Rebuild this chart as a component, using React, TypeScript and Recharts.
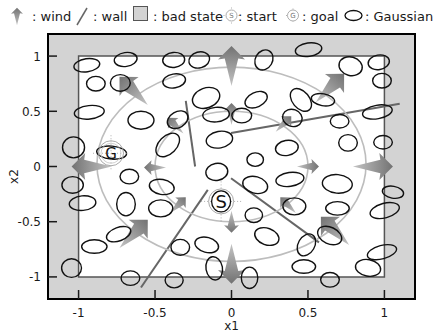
import React from 'react'
import { ScatterChart, Scatter, XAxis, YAxis, ReferenceArea, ReferenceLine } from 'recharts'

// axis setup
const xTicks = [-1, -0.5, 0, 0.5, 1]
const yTicks = [-1, -0.5, 0, 0.5, 1]
const fullDomain: [number, number] = [-1.2, 1.2]
const safeBox = { x1: -1, x2: 1, y1: -1, y2: 1 }

// gaussians: centre, spread along x / y (data units), tilt in degrees
const gaussians = [
  { x: -0.946, y: 0.917, sx: 0.085, sy: 0.059, a: -8 },
  { x: -0.692, y: 0.969, sx: 0.075, sy: 0.063, a: -8 },
  { x: -0.887, y: 0.75, sx: 0.061, sy: 0.066, a: 0 },
  { x: -0.727, y: 0.757, sx: 0.065, sy: 0.075, a: 0 },
  { x: -0.93, y: 0.491, sx: 0.098, sy: 0.061, a: -6 },
  { x: -0.592, y: 0.419, sx: 0.085, sy: 0.081, a: 0 },
  { x: -1.033, y: 0.173, sx: 0.072, sy: 0.095, a: 0 },
  { x: -0.784, y: 0.126, sx: 0.098, sy: 0.059, a: 5 },
  { x: -0.378, y: 0.965, sx: 0.072, sy: 0.068, a: -5 },
  { x: -0.211, y: 0.965, sx: 0.069, sy: 0.072, a: -15 },
  { x: 0.212, y: 0.965, sx: 0.056, sy: 0.095, a: 30 },
  { x: -0.375, y: 0.775, sx: 0.075, sy: 0.063, a: -10 },
  { x: -0.166, y: 0.621, sx: 0.092, sy: 0.09, a: -20 },
  { x: 0.161, y: 0.605, sx: 0.077, sy: 0.066, a: -25 },
  { x: -0.101, y: 0.47, sx: 0.087, sy: 0.066, a: -5 },
  { x: 0.067, y: 0.461, sx: 0.065, sy: 0.066, a: 0 },
  { x: -0.352, y: 0.424, sx: 0.072, sy: 0.072, a: -30 },
  { x: 0.398, y: 0.44, sx: 0.065, sy: 0.077, a: 20 },
  { x: -0.079, y: 0.243, sx: 0.087, sy: 0.075, a: -10 },
  { x: -0.417, y: 0.195, sx: 0.092, sy: 0.081, a: -45 },
  { x: 0.362, y: 0.168, sx: 0.075, sy: 0.068, a: -10 },
  { x: 0.155, y: 0.062, sx: 0.054, sy: 0.061, a: 0 },
  { x: -0.096, y: -0.049, sx: 0.072, sy: 0.077, a: -10 },
  { x: 0.504, y: 1.058, sx: 0.087, sy: 0.061, a: -8 },
  { x: 0.779, y: 0.908, sx: 0.077, sy: 0.084, a: 15 },
  { x: 0.963, y: 0.944, sx: 0.07, sy: 0.066, a: -10 },
  { x: 0.984, y: 0.777, sx: 0.061, sy: 0.066, a: 0 },
  { x: 0.454, y: 0.603, sx: 0.085, sy: 0.077, a: 50 },
  { x: 0.598, y: 0.605, sx: 0.077, sy: 0.054, a: 10 },
  { x: 0.707, y: 0.41, sx: 0.061, sy: 0.061, a: 0 },
  { x: 0.954, y: 0.494, sx: 0.098, sy: 0.061, a: -10 },
  { x: 0.762, y: 0.214, sx: 0.061, sy: 0.075, a: 0 },
  { x: 0.991, y: 0.22, sx: 0.061, sy: 0.061, a: 0 },
  { x: -1.039, y: -0.167, sx: 0.07, sy: 0.075, a: 0 },
  { x: -0.974, y: -0.332, sx: 0.087, sy: 0.066, a: -5 },
  { x: -0.668, y: -0.091, sx: 0.061, sy: 0.066, a: 0 },
  { x: -0.69, y: -0.341, sx: 0.061, sy: 0.106, a: 0 },
  { x: -0.456, y: -0.185, sx: 0.082, sy: 0.068, a: 10 },
  { x: -0.463, y: -0.379, sx: 0.079, sy: 0.077, a: 0 },
  { x: -0.738, y: -0.613, sx: 0.083, sy: 0.061, a: -20 },
  { x: -0.897, y: -0.725, sx: 0.083, sy: 0.061, a: 0 },
  { x: -1.046, y: -0.92, sx: 0.065, sy: 0.084, a: 0 },
  { x: -0.661, y: -1.011, sx: 0.061, sy: 0.066, a: 0 },
  { x: -0.375, y: -1.031, sx: 0.059, sy: 0.068, a: 0 },
  { x: 0.155, y: -0.167, sx: 0.083, sy: 0.075, a: 15 },
  { x: 0.382, y: -0.117, sx: 0.092, sy: 0.063, a: -8 },
  { x: 0.146, y: -0.441, sx: 0.057, sy: 0.066, a: 0 },
  { x: -0.335, y: -0.732, sx: 0.061, sy: 0.072, a: 0 },
  { x: -0.162, y: -0.71, sx: 0.079, sy: 0.068, a: 15 },
  { x: 0.231, y: -0.634, sx: 0.082, sy: 0.075, a: 20 },
  { x: -0.113, y: -0.922, sx: 0.054, sy: 0.106, a: -10 },
  { x: 0.118, y: -1.008, sx: 0.054, sy: 0.097, a: 0 },
  { x: 0.692, y: -0.157, sx: 0.098, sy: 0.084, a: 5 },
  { x: 1.056, y: -0.233, sx: 0.07, sy: 0.054, a: 10 },
  { x: 0.411, y: -0.361, sx: 0.075, sy: 0.077, a: 0 },
  { x: 0.693, y: -0.379, sx: 0.077, sy: 0.061, a: 0 },
  { x: 1.002, y: -0.399, sx: 0.098, sy: 0.066, a: -15 },
  { x: 0.642, y: -0.625, sx: 0.083, sy: 0.075, a: 25 },
  { x: 0.49, y: -0.71, sx: 0.054, sy: 0.106, a: 30 },
  { x: 0.984, y: -0.776, sx: 0.098, sy: 0.061, a: -15 },
  { x: 0.473, y: -0.906, sx: 0.077, sy: 0.061, a: 0 },
  { x: 0.893, y: -0.918, sx: 0.083, sy: 0.075, a: 10 },
  { x: 0.644, y: -1.026, sx: 0.061, sy: 0.066, a: 0 },
]

// grey guide circles of the wind field
const rings = [
  { x: 0, y: 0.02, r: 0.88 },
  { x: 0, y: 0, r: 0.5 },
]

// wind arrows: position, direction (deg, ccw from +x1), strength
const winds = [
  { x: 0, y: 0.91, dir: 90, s: 1 },
  { x: 0, y: -0.88, dir: 270, s: 1 },
  { x: -0.915, y: 0, dir: 180, s: 1 },
  { x: 0.925, y: 0, dir: 0, s: 1 },
  { x: -0.64, y: 0.684, dir: 135, s: 1 },
  { x: 0.644, y: 0.711, dir: 45, s: 1 },
  { x: -0.64, y: -0.61, dir: 45, s: 1 },
  { x: 0.677, y: -0.583, dir: 135, s: 1 },
  { x: 0, y: 0.475, dir: 90, s: 0.55 },
  { x: 0, y: -0.5, dir: 270, s: 0.55 },
  { x: -0.5, y: -0.01, dir: 180, s: 0.55 },
  { x: 0.5, y: 0, dir: 0, s: 0.55 },
  { x: -0.365, y: 0.37, dir: 135, s: 0.55 },
  { x: 0.34, y: 0.385, dir: 45, s: 0.55 },
  { x: -0.35, y: -0.35, dir: 45, s: 0.55 },
  { x: 0.37, y: -0.35, dir: 135, s: 0.55 },
]

// walls as segments
const walls = [
  [{ x: -0.299, y: 0.594 }, { x: -0.238, y: 0.0 }],
  [{ x: -0.003, y: 0.304 }, { x: 1.1, y: 0.569 }],
  [{ x: -0.003, y: -0.106 }, { x: 0.572, y: -0.687 }],
  [{ x: -0.155, y: -0.212 }, { x: -0.592, y: -1.096 }],
]

const startPos = [{ x: -0.068, y: -0.316 }]
const goalPos = [{ x: -0.788, y: 0.12 }]

const legendLabels = [': wind', ': wall', ': bad state', ': start', ': goal', ': Gaussian']

// layout
const W = 433
const H = 335
const margin = { top: 34, right: 18, bottom: 0, left: 0 }
const yAxisW = 48
const xAxisH = 36
const plotW = W - margin.left - margin.right - yAxisW
const plotH = H - margin.top - margin.bottom - xAxisH
const span = fullDomain[1] - fullDomain[0]
const kx = plotW / span
const ky = plotH / span

const TICK = 9
const ink = '#1a1a1a'

const GaussShape = (p: any) => {
  const { cx, cy, payload } = p
  return (
    <ellipse
      cx={cx}
      cy={cy}
      rx={payload.sx * kx}
      ry={payload.sy * ky}
      transform={`rotate(${payload.a} ${cx} ${cy})`}
      fill='none'
      stroke='#111'
      strokeWidth={1.4}
    />
  )
}

const RingShape = (p: any) => {
  const { cx, cy, payload } = p
  return <ellipse cx={cx} cy={cy} rx={payload.r * kx} ry={payload.r * ky} fill='none' stroke='#bdbdbd' strokeWidth={1.6} />
}

const dartPoints = (s: number) => {
  const L = 40 * s
  const w = 13.5 * s
  const h = L / 2
  const b = h - 0.34 * L
  return [
    [h, 0],
    [b, -w],
    [b + 1 * s, -0.5 * w],
    [-h, 0],
    [b + 1 * s, 0.5 * w],
    [b, w],
  ]
    .map((q) => q.join(','))
    .join(' ')
}

const WindShape = (p: any) => {
  const { cx, cy, payload } = p
  return (
    <g transform={`translate(${cx} ${cy}) rotate(${-payload.dir})`}>
      <polygon points={dartPoints(payload.s)} fill='url(#windGrad)' />
    </g>
  )
}

const Crosshair = ({ cx, cy, len }: { cx: number; cy: number; len: number }) => (
  <g stroke='#9a9a9a' strokeWidth={0.8} strokeDasharray='1 2'>
    <line x1={cx - len} y1={cy} x2={cx + len} y2={cy} />
    <line x1={cx} y1={cy - len} x2={cx} y2={cy + len} />
  </g>
)

const StartShape = (p: any) => {
  const { cx, cy } = p
  return (
    <g>
      <Crosshair cx={cx} cy={cy} len={20} />
      <circle cx={cx} cy={cy} r={12.5} fill='none' stroke='#aaa' strokeWidth={1} />
      <ellipse cx={cx} cy={cy} rx={9.5} ry={10.5} fill='#fff' stroke='#111' strokeWidth={1.3} />
      <text x={cx} y={cy + 6.5} textAnchor='middle' fontSize={18} fill='#111'>
        S
      </text>
    </g>
  )
}

const GoalShape = (p: any) => {
  const { cx, cy } = p
  return (
    <g>
      <Crosshair cx={cx} cy={cy} len={18} />
      <circle cx={cx} cy={cy} r={12.5} fill='none' stroke='#aaa' strokeWidth={1} />
      <circle cx={cx} cy={cy} r={10} fill='none' stroke='#c4c4c4' strokeWidth={0.8} />
      <text x={cx} y={cy + 5.5} textAnchor='middle' fontSize={15} fill='#111'>
        G
      </text>
    </g>
  )
}

const BottomTick = ({ x, y, payload }: any) => (
  <g>
    <line x1={x} y1={y} x2={x} y2={y - TICK} stroke={ink} strokeWidth={1.5} />
    <text x={x} y={y + 18} textAnchor='middle' fontSize={12} fill={ink}>
      {payload.value}
    </text>
  </g>
)

const LeftTick = ({ x, y, payload }: any) => (
  <g>
    <line x1={x} y1={y} x2={x + TICK} y2={y} stroke={ink} strokeWidth={1.5} />
    <text x={x - 7} y={y + 4.5} textAnchor='end' fontSize={12} fill={ink}>
      {payload.value}
    </text>
  </g>
)

const TopTick = ({ x, y }: any) => <line x1={x} y1={y} x2={x} y2={y + TICK} stroke={ink} strokeWidth={1.5} />
const RightTick = ({ x, y }: any) => <line x1={x} y1={y} x2={x - TICK} y2={y} stroke={ink} strokeWidth={1.5} />

const YTitle = (props: any) => {
  const vb = props.viewBox || { x: 0, y: margin.top, width: yAxisW, height: plotH }
  const cx = vb.x + 14
  const cy = vb.y + vb.height / 2 + 10
  return (
    <text x={cx} y={cy} transform={`rotate(-90 ${cx} ${cy})`} textAnchor='middle' dominantBaseline='central' fontSize={12} fill={ink}>
      x2
    </text>
  )
}

const Legend = () => {
  const textX = [32, 93, 153, 238, 302, 365]
  return (
    <svg width={W} height={30} style={{ position: 'absolute', left: 0, top: 0 }}>
      <g transform='translate(17 16.5) rotate(-90)'>
        <polygon points={dartPoints(0.44)} fill='url(#windGrad)' />
      </g>
      <line x1={77} y1={25} x2={87} y2={8} stroke='#666' strokeWidth={1.5} />
      <rect x={133.5} y={6.5} width={14} height={14} fill='#d3d3d3' stroke='#555' strokeWidth={1} />
      <g>
        <Crosshair cx={231.5} cy={15.5} len={8} />
        <circle cx={231.5} cy={15.5} r={5.5} fill='#fff' stroke='#999' strokeWidth={0.8} />
        <text x={231.5} y={18} textAnchor='middle' fontSize={7} fill='#777'>
          S
        </text>
      </g>
      <g>
        <Crosshair cx={293} cy={15.5} len={7} />
        <circle cx={293} cy={15.5} r={5.5} fill='#fff' stroke='#999' strokeWidth={0.8} />
        <text x={293} y={18} textAnchor='middle' fontSize={7} fill='#777'>
          G
        </text>
      </g>
      <ellipse cx={353.5} cy={15.5} rx={8.5} ry={5} fill='none' stroke='#111' strokeWidth={1.3} />
      {legendLabels.map((t, i) => (
        <text key={t} x={textX[i]} y={21} fontSize={13} fill={ink}>
          {t}
        </text>
      ))}
    </svg>
  )
}

export default function App() {
  return (
    <div style={{ position: 'absolute', left: 0, top: 0, width: W, height: H, background: '#fff', fontFamily: '"DejaVu Sans", sans-serif' }}>
      <svg width={0} height={0} style={{ position: 'absolute' }}>
        <defs>
          <linearGradient id='windGrad' x1='0' y1='0' x2='1' y2='0'>
            <stop offset='0%' stopColor='#c4c4c4' />
            <stop offset='100%' stopColor='#727272' />
          </linearGradient>
        </defs>
      </svg>
      <ScatterChart width={W} height={H} margin={margin}>
        <ReferenceArea x1={fullDomain[0]} x2={fullDomain[1]} y1={fullDomain[0]} y2={fullDomain[1]} fill='#d3d3d3' fillOpacity={1} stroke='#000' strokeWidth={2} />
        <ReferenceArea {...safeBox} fill='#fff' fillOpacity={1} stroke='#555' strokeWidth={1.5} />
        <XAxis
          dataKey='x'
          type='number'
          domain={fullDomain}
          ticks={xTicks}
          interval={0}
          height={xAxisH}
          axisLine={false}
          tickLine={false}
          tickSize={0}
          tickMargin={0}
          tick={BottomTick}
          label={{ value: 'x1', position: 'insideBottom', offset: 5, fontSize: 12, fill: ink }}
        />
        <XAxis xAxisId='top' orientation='top' type='number' domain={fullDomain} ticks={xTicks} interval={0} height={0} axisLine={false} tickLine={false} tickSize={0} tickMargin={0} tick={TopTick} />
        <YAxis
          dataKey='y'
          type='number'
          domain={fullDomain}
          ticks={yTicks}
          interval={0}
          width={yAxisW}
          axisLine={false}
          tickLine={false}
          tickSize={0}
          tickMargin={0}
          tick={LeftTick}
          label={{ content: YTitle }}
        />
        <YAxis yAxisId='right' orientation='right' type='number' domain={fullDomain} ticks={yTicks} interval={0} width={0} axisLine={false} tickLine={false} tickSize={0} tickMargin={0} tick={RightTick} />
        <Scatter data={rings} shape={RingShape} isAnimationActive={false} />
        <Scatter data={winds} shape={WindShape} isAnimationActive={false} />
        {walls.map((seg, i) => (
          <ReferenceLine key={i} segment={seg} stroke='#666' strokeWidth={2} />
        ))}
        <Scatter data={gaussians} shape={GaussShape} isAnimationActive={false} />
        <Scatter data={goalPos} shape={GoalShape} isAnimationActive={false} />
        <Scatter data={startPos} shape={StartShape} isAnimationActive={false} />
      </ScatterChart>
      <Legend />
    </div>
  )
}
